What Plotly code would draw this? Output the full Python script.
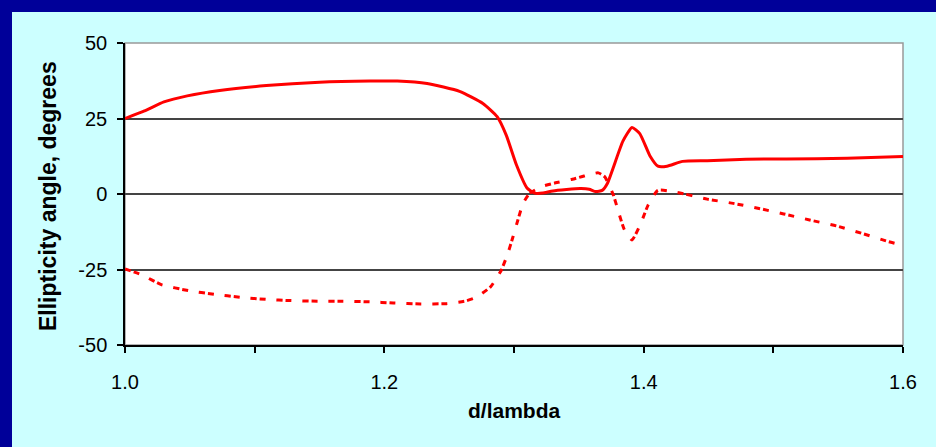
import plotly.graph_objects as go

# Ellipticity angle versus normalised thickness d/lambda, two polarisation branches
d_solid = [1.000, 1.015, 1.030, 1.048, 1.073, 1.109, 1.150, 1.189, 1.210, 1.233,
           1.258, 1.276, 1.287, 1.294, 1.302, 1.310, 1.316, 1.322, 1.330, 1.351,
           1.358, 1.363, 1.368, 1.372, 1.384, 1.391, 1.397, 1.405, 1.411, 1.418,
           1.430, 1.449, 1.479, 1.510, 1.557, 1.600]
angle_solid = [25.0, 27.5, 30.5, 32.5, 34.3, 35.9, 37.0, 37.4, 37.4, 36.6,
               34.0, 30.0, 25.6, 19.5, 9.5, 2.0, 0.3, 0.3, 1.0, 1.8,
               1.6, 0.8, 1.2, 3.5, 17.5, 22.0, 20.0, 12.5, 9.2, 9.2,
               10.8, 11.0, 11.5, 11.6, 11.8, 12.4]

d_dash = [1.000, 1.013, 1.028, 1.049, 1.069, 1.089, 1.109, 1.128, 1.149, 1.168,
          1.189, 1.207, 1.228, 1.248, 1.263, 1.271, 1.282, 1.290, 1.295, 1.299,
          1.303, 1.307, 1.312, 1.321, 1.332, 1.345, 1.352, 1.365, 1.370, 1.3766,
          1.3805, 1.385, 1.391, 1.398, 1.4035, 1.411, 1.425, 1.449, 1.469, 1.488,
          1.508, 1.528, 1.549, 1.568, 1.589, 1.600]
angle_dash = [-24.8, -26.8, -30.0, -32.0, -33.2, -34.2, -34.9, -35.3, -35.5, -35.5,
              -35.7, -36.1, -36.4, -36.3, -35.4, -34.2, -30.7, -25.4, -20.0, -14.5,
              -8.6, -3.1, 0.2, 2.4, 3.7, 4.9, 5.7, 7.0, 5.7, -0.3,
              -5.8, -11.7, -15.2, -9.5, -3.6, 1.2, 0.6, -1.7, -3.1, -4.7,
              -6.6, -8.6, -10.6, -13.0, -15.8, -17.0]

x_ticks = [1.0, 1.1, 1.2, 1.3, 1.4, 1.5, 1.6]
x_ticktext = ["1.0", "", "1.2", "", "1.4", "", "1.6"]
y_ticks = [-50, -25, 0, 25, 50]
y_ticktext = ["-50", "-25", "0", "25", "50"]

FONT = "Liberation Sans, Arial, sans-serif"
RED = "#FF0000"
CYAN = "#CCFFFF"
NAVY = "#000099"

# plot-area geometry in pixels
W, H = 936, 447
L, R, T, B = 125, 903, 43, 345


def px_x(p):
    return (p - L) / (R - L)


def px_y(p):
    return (B - p) / (B - T)


fig = go.Figure()
fig.add_trace(go.Scatter(
    x=d_solid, y=angle_solid, mode="lines",
    line=dict(color=RED, width=3, shape="spline", smoothing=0.5),
    showlegend=False, hoverinfo="skip"))
fig.add_trace(go.Scatter(
    x=d_dash, y=angle_dash, mode="lines",
    line=dict(color=RED, width=3, shape="spline", smoothing=0.5,
              dash="6px,3px,6px,11px"),
    showlegend=False, hoverinfo="skip"))

shapes = [
    # grey frame around the plotting area
    dict(type="rect", xref="paper", yref="paper", x0=0, x1=1, y0=0, y1=1,
         line=dict(color="#999999", width=1.5), layer="below"),
    # navy slide border (left and top)
    dict(type="rect", xref="paper", yref="paper",
         x0=px_x(0), x1=px_x(12), y0=px_y(H), y1=px_y(0),
         fillcolor=NAVY, line=dict(width=0)),
    dict(type="rect", xref="paper", yref="paper",
         x0=px_x(0), x1=px_x(W), y0=px_y(12), y1=px_y(0),
         fillcolor=NAVY, line=dict(width=0)),
]

annotations = [
    dict(text="<b>Ellipticity angle, degrees</b>", textangle=-90,
         xref="paper", yref="paper", x=px_x(48), y=px_y(196),
         showarrow=False, font=dict(family=FONT, size=23, color="black"),
         xanchor="center", yanchor="middle"),
    dict(text="<b>d/lambda</b>",
         xref="paper", yref="paper", x=px_x(514), y=px_y(410),
         showarrow=False, font=dict(family=FONT, size=21, color="black"),
         xanchor="center", yanchor="middle"),
]

fig.update_layout(
    width=W, height=H,
    margin=dict(l=L, r=W - R, t=T, b=H - B, pad=0),
    paper_bgcolor=CYAN, plot_bgcolor="white",
    font=dict(family=FONT, size=20, color="black"),
    shapes=shapes, annotations=annotations,
    xaxis=dict(range=[1.0, 1.6], tickvals=x_ticks, ticktext=x_ticktext,
               showgrid=False, zeroline=False,
               showline=True, linecolor="black", linewidth=1.5,
               ticks="outside", ticklen=6, tickcolor="black", tickwidth=1.5,
               ticklabelstandoff=12,
               tickfont=dict(family=FONT, size=20)),
    yaxis=dict(range=[-50, 50], tickvals=y_ticks, ticktext=y_ticktext,
               showgrid=True, gridcolor="#444444", gridwidth=1.5,
               zeroline=False,
               showline=True, linecolor="black", linewidth=1.5,
               ticks="outside", ticklen=6, tickcolor="black", tickwidth=1.5,
               ticklabelstandoff=6,
               tickfont=dict(family=FONT, size=20)),
)

fig.write_html("out.html")
